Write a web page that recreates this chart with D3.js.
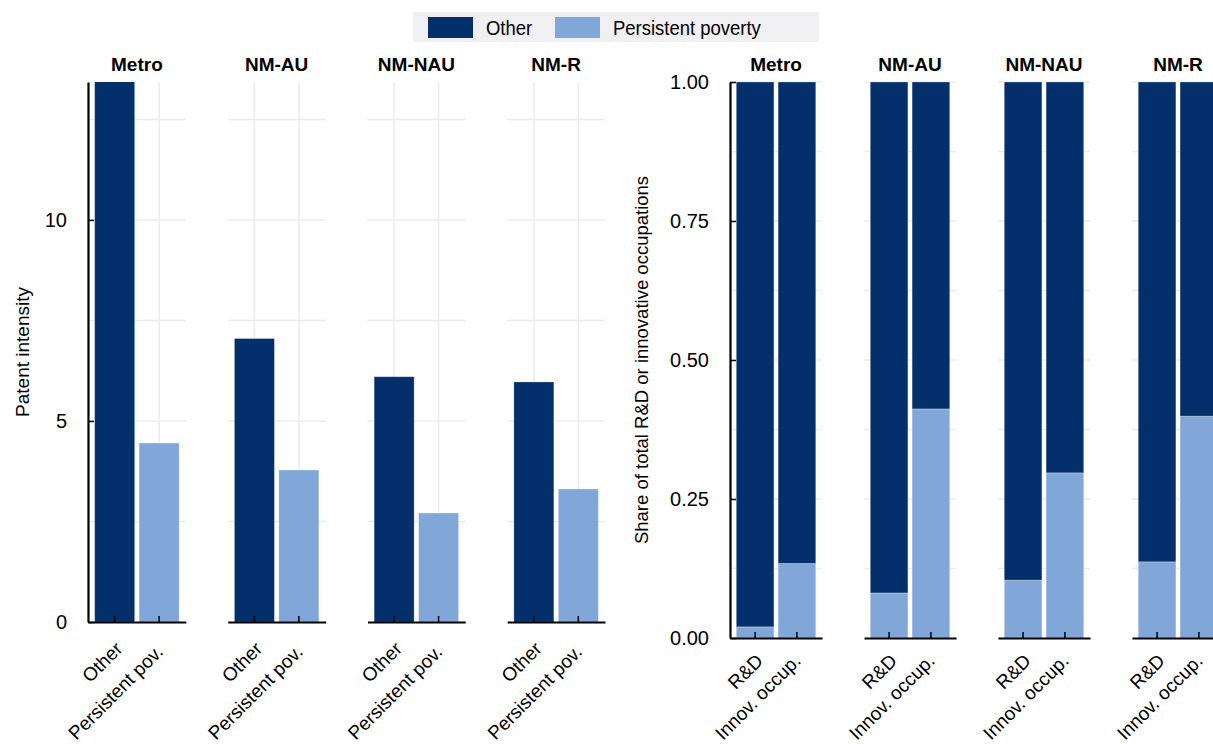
<!DOCTYPE html>
<html><head><meta charset="utf-8">
<script src="https://cdn.jsdelivr.net/npm/d3@7"></script>
<style>
body{margin:0;background:#fff}
svg{display:block}
text{font-family:"Liberation Sans Narrow","Arial Narrow","Liberation Sans",Arial,sans-serif;fill:#000}
</style></head>
<body><svg id="c" width="1213" height="744"></svg>
<script>
const regions = ["Metro","NM-AU","NM-NAU","NM-R"];
const patentGroups = ["Other","Persistent pov."];
const patentOther = [15.0, 7.05, 6.1, 5.97];
const patentPersistent = [4.45, 3.78, 2.71, 3.31];
const patentTicks = [0,5,10];
const patentGrid = [2.5,5,7.5,10,12.5];
const shareGroups = ["R&D","Innov. occup."];
const sharePersistentRD = [0.020, 0.081, 0.104, 0.137];
const sharePersistentInnov = [0.134, 0.412, 0.297, 0.399];
const shareTicks = [0,0.25,0.5,0.75,1];
const shareGrid = [0.125,0.25,0.375,0.5,0.625,0.75,0.875,1];
const legendLabels = ["Other","Persistent poverty"];

const DARK = "#03306b", LIGHT = "#80a7d8", GRID = "#ececec";
const svg = d3.select("#c");

// legend
const lg = svg.append("g");
lg.append("rect").attr("x",413).attr("y",12).attr("width",406).attr("height",30).attr("fill","#f0eff2");
const lx = [428,555];
legendLabels.forEach((l,i)=>{
  lg.append("rect").attr("x",lx[i]).attr("y",17).attr("width",45).attr("height",21).attr("fill",i?LIGHT:DARK);
  lg.append("text").attr("transform",`translate(${lx[i]+58},34.5) scale(0.88,1)`).attr("font-size",21).text(l);
});

function drawGroup(opts){
  const {x0,x1,pad,yTop,yBot,domainMax,ticks,grid,fmt,groups,stacks,title,titleX,titleSize,lblOff} = opts;
  const fx = d3.scaleBand().domain(regions).range([x0,x1]).paddingInner(pad);
  const y = d3.scaleLinear().domain([0,domainMax]).range([yBot,yTop]);
  const clipId = "clip"+x0;
  regions.forEach((r,ri)=>{
    const px = fx(r), w = fx.bandwidth();
    const g = svg.append("g").attr("transform",`translate(${px},0)`);
    const cx = d3.scaleBand().domain(groups).range([0,w]).paddingInner(0.1).paddingOuter(0.15);
    g.append("clipPath").attr("id",clipId+ri).append("rect").attr("x",0).attr("y",yTop).attr("width",w).attr("height",yBot-yTop);
    // grid
    g.selectAll(".hg").data(grid).join("line").attr("x1",0).attr("x2",w)
      .attr("y1",d=>y(d)).attr("y2",d=>y(d)).attr("stroke",GRID).attr("stroke-width",1.5);
    g.selectAll(".vg").data(groups).join("line").attr("x1",d=>cx(d)+cx.bandwidth()/2).attr("x2",d=>cx(d)+cx.bandwidth()/2)
      .attr("y1",yTop).attr("y2",yBot).attr("stroke",GRID).attr("stroke-width",1.5);
    // bars
    const bg = g.append("g").attr("clip-path",`url(#${clipId+ri})`);
    groups.forEach((gname,gi)=>{
      stacks(ri,gi).forEach(s=>{
        bg.append("rect").attr("x",cx(gname)).attr("width",cx.bandwidth())
          .attr("y",y(s.hi)).attr("height",y(s.lo)-y(s.hi)).attr("fill",s.color)
          .attr("stroke","#ffffff").attr("stroke-opacity",0.35).attr("stroke-width",0.8);
      });
    });
    // x axis
    const xa = g.append("g").attr("transform",`translate(0,${yBot})`)
      .call(d3.axisBottom(cx).tickSize(-6).tickSizeOuter(0).tickFormat(""));
    xa.select(".domain").attr("stroke","#000").attr("stroke-width",2.2);
    xa.selectAll(".tick line").attr("stroke","#000").attr("stroke-width",1.5);
    groups.forEach((gname,gi)=>{
      const tx = cx(gname)+cx.bandwidth()/2;
      const o = lblOff[gi];
      g.append("text").attr("text-anchor","end").attr("font-size",19)
        .attr("transform",`translate(${tx+o[0]},${yBot+o[1]}) rotate(-45)`).text(gname);
    });
    // facet title
    g.append("text").attr("x",w/2).attr("y",yTop-11).attr("text-anchor","middle")
      .attr("font-size",19).attr("font-weight","bold").text(r);
    if(ri===0){
      const ya = g.append("g").call(d3.axisLeft(y).tickValues(ticks).tickFormat(fmt).tickSize(-6).tickSizeOuter(0).tickPadding(21));
      ya.select(".domain").attr("stroke","#000").attr("stroke-width",2.2);
      ya.selectAll(".tick line").attr("stroke","#000").attr("stroke-width",1.5);
      ya.selectAll(".tick text").attr("font-size",20).attr("font-family",null);
      ya.attr("font-family",null);
    }
  });
  svg.append("text").attr("text-anchor","middle").attr("font-size",titleSize)
    .attr("transform",`translate(${titleX},${(yTop+yBot)/2}) rotate(-90)`).text(title);
}

drawGroup({x0:88,x1:605,pad:0.3,yTop:82,yBot:622,domainMax:13.43,ticks:patentTicks,grid:patentGrid,
  fmt:d3.format("d"),groups:patentGroups,title:"Patent intensity",titleX:29,titleSize:19,
  lblOff:[[9,28],[5,31]],
  stacks:(ri,gi)=>[{lo:0,hi:gi?patentPersistent[ri]:patentOther[ri],color:gi?LIGHT:DARK}]});

drawGroup({x0:730,x1:1224,pad:0.313,yTop:82,yBot:638,domainMax:1,ticks:shareTicks,grid:shareGrid,
  fmt:d3.format(".2f"),groups:shareGroups,title:"Share of total R&D or innovative occupations",titleX:648,titleSize:18.5,
  lblOff:[[9,24],[5,24]],
  stacks:(ri,gi)=>{const p = gi?sharePersistentInnov[ri]:sharePersistentRD[ri];
    return [{lo:0,hi:p,color:LIGHT},{lo:p,hi:1,color:DARK}];}});
</script></body></html>
